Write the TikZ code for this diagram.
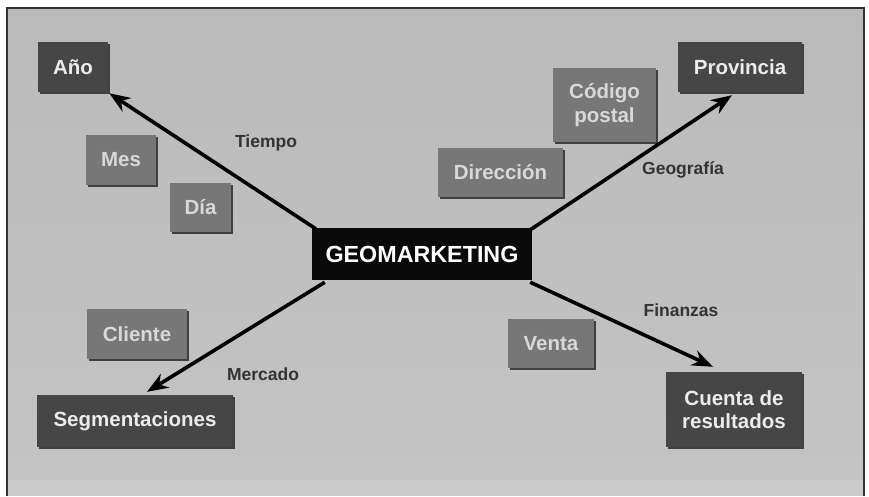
\documentclass[tikz,border=0pt]{standalone}
\usepackage{fontspec}
\setmainfont{Liberation Sans}
\usetikzlibrary{arrows.meta,shadows}
\definecolor{panelA}{HTML}{BABABA}
\definecolor{panelB}{HTML}{C4C4C4}
\definecolor{stripc}{HTML}{CACACA}
\definecolor{framec}{HTML}{333333}
\definecolor{darkbox}{HTML}{464646}
\definecolor{darktxt}{HTML}{ECECEC}
\definecolor{midbox}{HTML}{777777}
\definecolor{midtxt}{HTML}{D8D8D8}
\definecolor{labtxt}{HTML}{333333}
\tikzset{
  basebox/.style={inner sep=0pt, align=center, font=\bfseries\fontsize{20.5}{23.5}\selectfont,
    general shadow={fill=black!75, shadow xshift=1.5pt, shadow yshift=-1.5pt}},
  darkb/.style={basebox, fill=darkbox, text=darktxt},
  midb/.style={basebox, fill=midbox, text=midtxt},
  geob/.style={inner sep=0pt, fill=black!96, text=white, font=\bfseries\fontsize{23.3}{26}\selectfont},
  lab/.style={text=labtxt, font=\bfseries\fontsize{17.5}{20}\selectfont},
  conn/.style={line width=3.6pt, -{Stealth[length=21pt, width=16pt]}}
}
\begin{document}
\begin{tikzpicture}[x=1pt,y=-1pt]
\useasboundingbox (0,0) rectangle (869,496);
\fill[white] (0,0) rectangle (869,496);
\shade[top color=panelA, bottom color=panelB] (7,8) rectangle (864,480);
\fill[stripc] (7,480) rectangle (864,496);
\draw[framec, line width=2.5pt] (7,496) -- (7,8) -- (864,8) -- (864,496);

\node[darkb, minimum width=70pt, minimum height=50pt] (ano) at (73,67) {Año};
\node[midb, minimum width=70pt, minimum height=50pt] (mes) at (121,160) {Mes};
\node[midb, minimum width=61pt, minimum height=49pt] (dia) at (200.5,207.5) {Día};
\node[midb, minimum width=103pt, minimum height=74pt] (cod) at (604.5,105) {Código\\postal};
\node[darkb, minimum width=124pt, minimum height=50pt] (prov) at (740,67) {Provincia};
\node[midb, minimum width=125pt, minimum height=49pt] (dir) at (500.5,172.5) {Dirección};
\node[geob, minimum width=220pt, minimum height=52pt] (geo) at (422,254) {GEOMARKETING};
\node[midb, minimum width=100pt, minimum height=50pt] (cli) at (137,334) {Cliente};
\node[darkb, minimum width=196pt, minimum height=52pt] (seg) at (135,421) {Segmentaciones};
\node[midb, minimum width=86pt, minimum height=49pt] (ven) at (551,343.5) {Venta};
\node[darkb, minimum width=136pt, minimum height=75pt] (cue) at (734,409.5) {Cuenta de\\resultados};

\node[lab] (ltiempo) at (266,143) {Tiempo};
\node[lab] (lgeo) at (683,170) {Geografía};
\node[lab] (lmer) at (263,374) {Mercado};
\node[lab] (lfin) at (681,310) {Finanzas};

\draw[conn] ([xshift=4pt,yshift=-1pt]geo.north west) -- ([xshift=1pt,yshift=-1pt]ano.south east);
\draw[conn] ([xshift=-2pt,yshift=-2pt]geo.north east) -- ([xshift=-8pt,yshift=-3pt]prov.south);
\draw[conn] ([xshift=13pt,yshift=-2pt]geo.south west) -- ([xshift=12pt,yshift=3pt]seg.north);
\draw[conn] ([xshift=-2pt,yshift=-2pt]geo.south east) -- ([xshift=-21pt,yshift=5pt]cue.north);
\end{tikzpicture}
\end{document}
